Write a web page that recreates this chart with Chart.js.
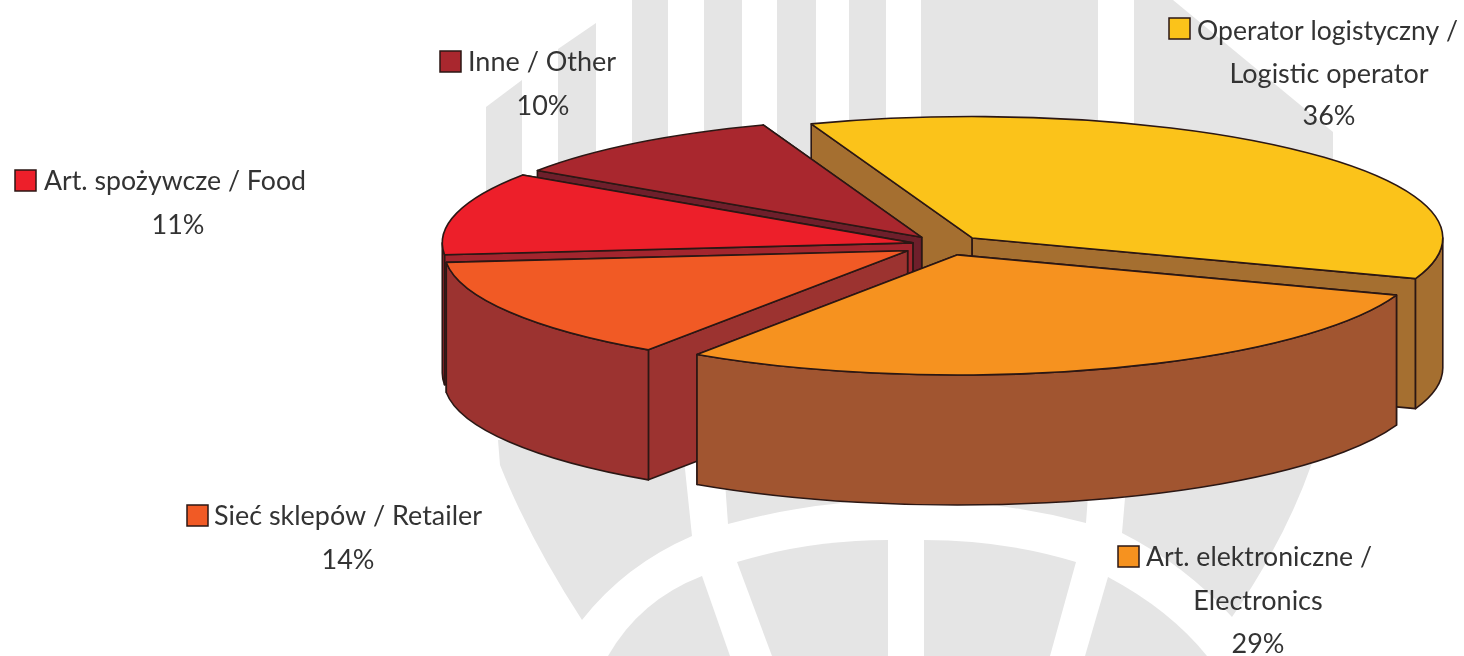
<!DOCTYPE html>
<html lang="en">

<head>
  <meta charset="UTF-8">
  <title>Operator logistyczny / Logistic operator</title>
  <script src="https://cdn.jsdelivr.net/npm/chart.js"></script>
  <style>
    html, body {
      margin: 0;
      padding: 0;
      background: #fff;
      overflow: hidden;
    }

    .stage {
      position: relative;
      width: 1464px;
      height: 656px;
    }

    .stage svg, .stage canvas {
      position: absolute;
      left: 0;
      top: 0;
    }
  </style>
</head>

<body>
  <div class="stage">
    <!-- grey logo behind the chart -->
    <svg width="1464" height="656" fill="#e5e5e5">
      <path d="M486 107L522 80V220H486Z" />
      <path d="M558 49L596 23V200H558Z" />
      <path d="M632 0H668V200H632Z" />
      <path d="M704 0H742V200H704Z" />
      <path d="M777 0H816V200H777Z" />
      <path d="M849 0H886V200H849Z" />
      <path d="M921 0H1098V200H921Z" />
      <path d="M1134 0H1173L1333 132V200H1134Z" />
      <path d="M498 440L682 440L692 536Q625 565 582 620Q530 540 500 465Z" />
      <path d="M722 440L728 524Q905 476 1086 523L1092 440Z" />
      <path d="M1130 440L1122 533Q1185 565 1232 617Q1285 540 1312 463V440Z" />
      <path d="M702 576L730 656H608Q640 600 702 576Z" />
      <path d="M737 562Q810 540 888 540V656H772Z" />
      <path d="M924 540Q1005 540 1076 562L1050 656H924Z" />
      <path d="M1108 577Q1170 610 1207 656H1085Z" />
    </svg>
    <canvas id="pieChart" width="1464" height="656"></canvas>
  </div>

  <script>
    const categories = ['Operator logistyczny / Logistic operator', 'Art. elektroniczne / Electronics', 'Sieć sklepów / Retailer', 'Art. spożywcze / Food', 'Inne / Other'];
    const shares = [36, 29, 14, 11, 10];
    const topColors = ['#fbc31a', '#f6921f', '#f15a25', '#ed1f2a', '#a9272e'];
    const wallColors = ['#a56f30', '#a15530', '#9c3330', '#a3252e', '#6e1f2b'];
    const explode = [0.0815, 0.085, 0.092, 0.07, 0.08];
    const sliceScale = [0.995, 0.985, 0.98, 0.995, 0.98];
    const drawOrder = [0, 4, 3, 2, 1];

    // text lines of each label, first line has the colour box in front of it
    const labelLines = [
      ['Operator logistyczny /', 'Logistic operator', '36%'],
      ['Art. elektroniczne /', 'Electronics', '29%'],
      ['Sieć sklepów / Retailer', '14%'],
      ['Art. spożywcze / Food', '11%'],
      ['Inne / Other', '10%']
    ];
    const labelPlaces = [
      { box: 1169, boxY: 18, text: 1197, width: 261, centre: 1329, lines: [40, 83, 125] },
      { box: 1118, boxY: 546, text: 1146, width: 226, centre: 1258, lines: [566, 610, 653] },
      { box: 187, boxY: 505, text: 214, width: 268, centre: 348, lines: [525, 569] },
      { box: 15, boxY: 170, text: 44, width: 262, centre: 178, lines: [190, 234] },
      { box: 440, boxY: 51, text: 468, width: 149, centre: 543, lines: [71, 115] }
    ];

    const pie = { cx: 945, cy: 245, rx: 473, ry: 122, depth: 130 };
    const edge = '#2b1714';

    function drawSlice(ctx, arc, i) {
      const mid = (arc.startAngle + arc.endAngle) / 2;
      const rx = pie.rx * sliceScale[i];
      const ry = pie.ry * sliceScale[i];
      const c = {
        x: pie.cx + explode[i] * pie.rx * Math.cos(mid),
        y: pie.cy + explode[i] * pie.ry * Math.sin(mid)
      };
      const a = [c.x + rx * Math.cos(arc.startAngle), c.y + ry * Math.sin(arc.startAngle)];
      const b = [c.x + rx * Math.cos(arc.endAngle), c.y + ry * Math.sin(arc.endAngle)];

      ctx.save();
      ctx.lineWidth = 1.6;
      ctx.lineJoin = 'round';
      ctx.strokeStyle = edge;
      ctx.fillStyle = wallColors[i];

      // the two cut faces, the one further back first
      (a[1] < b[1] ? [a, b] : [b, a]).forEach(p => {
        ctx.beginPath();
        ctx.moveTo(c.x, c.y);
        ctx.lineTo(p[0], p[1]);
        ctx.lineTo(p[0], p[1] + pie.depth);
        ctx.lineTo(c.x, c.y + pie.depth);
        ctx.closePath();
        ctx.fill();
        ctx.stroke();
      });

      // outer wall, only the part that faces the viewer
      const start = ((arc.startAngle % (2 * Math.PI)) + 2 * Math.PI) % (2 * Math.PI);
      const length = arc.endAngle - arc.startAngle;
      [[start, start + length], [start - 2 * Math.PI, start - 2 * Math.PI + length]].forEach(range => {
        const from = Math.max(range[0], 0);
        const to = Math.min(range[1], Math.PI);
        if (to <= from) return;
        ctx.beginPath();
        ctx.ellipse(c.x, c.y, rx, ry, 0, from, to);
        ctx.ellipse(c.x, c.y + pie.depth, rx, ry, 0, to, from, true);
        ctx.closePath();
        ctx.fill();
        ctx.stroke();
      });

      // top face: the library's own arc, squashed to the ellipse
      ctx.save();
      ctx.translate(c.x, c.y);
      ctx.scale(rx / arc.outerRadius, ry / arc.outerRadius);
      ctx.translate(-arc.x, -arc.y);
      arc.draw(ctx);
      ctx.restore();

      ctx.beginPath();
      ctx.moveTo(c.x, c.y);
      ctx.ellipse(c.x, c.y, rx, ry, 0, arc.startAngle, arc.endAngle);
      ctx.closePath();
      ctx.stroke();
      ctx.restore();
    }

    function drawLabels(ctx) {
      ctx.save();
      ctx.font = '27px Lato';
      ctx.textBaseline = 'alphabetic';
      labelLines.forEach((lines, i) => {
        const place = labelPlaces[i];
        ctx.fillStyle = topColors[i];
        ctx.strokeStyle = edge;
        ctx.lineWidth = 1.5;
        ctx.fillRect(place.box, place.boxY, 21, 21);
        ctx.strokeRect(place.box, place.boxY, 21, 21);
        ctx.fillStyle = '#333';
        lines.forEach((line, n) => {
          if (n === 0) {
            ctx.textAlign = 'left';
            ctx.fillText(line, place.text, place.lines[n], place.width);
          } else {
            ctx.textAlign = 'center';
            ctx.fillText(line, place.centre, place.lines[n]);
          }
        });
      });
      ctx.restore();
    }

    const pie3d = {
      id: 'pie3d',
      beforeDatasetsDraw(chart) {
        const arcs = chart.getDatasetMeta(0).data;
        drawOrder.forEach(i => drawSlice(chart.ctx, arcs[i], i));
        drawLabels(chart.ctx);
        return false;
      }
    };

    new Chart(document.getElementById('pieChart').getContext('2d'), {
      type: 'pie',
      data: {
        labels: categories,
        datasets: [{
          data: shares,
          backgroundColor: topColors,
          borderWidth: 0
        }]
      },
      options: {
        responsive: false,
        animation: false,
        rotation: -20,
        events: [],
        plugins: {
          legend: { display: false },
          tooltip: { enabled: false }
        }
      },
      plugins: [pie3d]
    });
  </script>
</body>

</html>
